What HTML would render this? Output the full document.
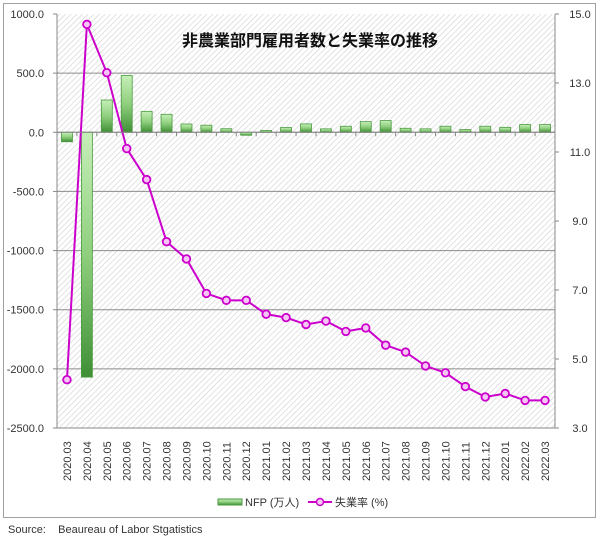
<!DOCTYPE html>
<html><head><meta charset="utf-8">
<style>
body{margin:0;background:#fff;width:600px;height:538px;overflow:hidden;font-family:"Liberation Sans","Noto Sans CJK JP",sans-serif}
svg text{font-family:"Liberation Sans","Noto Sans CJK JP",sans-serif}
</style></head><body>
<svg id="c" width="600" height="538" xmlns="http://www.w3.org/2000/svg">
<defs>
<pattern id="hatch" width="4" height="4" patternUnits="userSpaceOnUse" patternTransform="rotate(45)">
<rect width="4" height="4" fill="#fff"/><line x1="0" y1="0" x2="0" y2="4" stroke="#d0d0d0" stroke-width="1.2"/></pattern>
<linearGradient id="gb" x1="0" y1="0" x2="0" y2="1"><stop offset="0" stop-color="#c6efb8"/><stop offset="0.5" stop-color="#8fcf7e"/><stop offset="1" stop-color="#3f8f35"/></linearGradient>
</defs>
<rect x="3.5" y="3.5" width="592" height="514" fill="#fff" stroke="#a0a0a0"/>
<rect x="57" y="14" width="498" height="414" fill="url(#hatch)"/>
<g id="grid"></g><g id="bars"></g><g id="line"></g><g id="axes"></g>
<text x="310" y="46" text-anchor="middle" font-size="16" font-weight="bold" fill="#111">非農業部門雇用者数と失業率の推移</text>
<g>
<rect x="218" y="499" width="24" height="6" fill="url(#gb)" stroke="#4a9a40"/>
<text x="245" y="506" font-size="11" fill="#333">NFP (万人)</text>
<line x1="308" y1="502" x2="332" y2="502" stroke="#cc00cc" stroke-width="2"/>
<circle cx="320" cy="502" r="3.5" fill="#f6c6f6" stroke="#cc00cc" stroke-width="1.5"/>
<text x="335" y="506" font-size="11" fill="#333">失業率 (%)</text>
</g>
<text x="8" y="533" font-size="11" fill="#333">Source:&#160;&#160;&#160;&#160;Beaureau of Labor Stgatistics</text>
</svg>
<script>
const categories=["2020.03","2020.04","2020.05","2020.06","2020.07","2020.08","2020.09","2020.10","2020.11","2020.12","2021.01","2021.02","2021.03","2021.04","2021.05","2021.06","2021.07","2021.08","2021.09","2021.10","2021.11","2021.12","2022.01","2022.02","2022.03"];
const nfpValues=[-80,-2070,273,480,177,152,70,60,30,-25,15,40,71,29,51,90,99,34,29,51,23,51,42,65,65];
const unempValues=[4.4,14.7,13.3,11.1,10.2,8.4,7.9,6.9,6.7,6.7,6.3,6.2,6.0,6.1,5.8,5.9,5.4,5.2,4.8,4.6,4.2,3.9,4.0,3.8,3.8];
const leftTicks=[1000,500,0,-500,-1000,-1500,-2000,-2500];
const rightTicks=[15,13,11,9,7,5,3];
const NS="http://www.w3.org/2000/svg";
const X0=57,X1=555,Y0=14,Y1=428;
const bw=(X1-X0)/categories.length;
const xC=i=>X0+bw*(i+0.5);
const yL=v=>Y0+(1000-v)/3500*(Y1-Y0);
const yR=v=>Y0+(15-v)/12*(Y1-Y0);
function mk(tag,attrs,parent,txt){const e=document.createElementNS(NS,tag);for(const k in attrs)e.setAttribute(k,attrs[k]);if(txt!==undefined)e.textContent=txt;document.getElementById(parent).appendChild(e);return e;}
leftTicks.forEach(t=>{
 if(t!==1000&&t!==-2500){const g=mk('line',{x1:X0,x2:X1,y1:yL(t),y2:yL(t),stroke:'#8c8c8c','stroke-width':1},'grid');
 
 }
 const l=mk('text',{x:44,y:yL(t)+4,'text-anchor':'end','font-size':11,fill:'#333'},'axes',t.toFixed(1));
 
 
 mk('line',{x1:X0-4,x2:X0,y1:yL(t),y2:yL(t),stroke:'#888'},'axes');
});
rightTicks.forEach(t=>{
 const l=mk('text',{x:580,y:yR(t)+4,'text-anchor':'middle','font-size':11,fill:'#333'},'axes',t.toFixed(1));
 
 
 mk('line',{x1:X1,x2:X1+4,y1:yR(t),y2:yR(t),stroke:'#888'},'axes');
});
mk('line',{x1:X0,x2:X0,y1:Y0,y2:Y1,stroke:'#888'},'axes');
mk('line',{x1:X1,x2:X1,y1:Y0,y2:Y1,stroke:'#888'},'axes');
mk('line',{x1:X0,x2:X1,y1:Y1,y2:Y1,stroke:'#888'},'axes');
mk('line',{x1:X0,x2:X1,y1:yL(0),y2:yL(0),stroke:'#888'},'axes');
nfpValues.forEach((v,i)=>{
 const y=Math.min(yL(v),yL(0)),h=Math.abs(yL(v)-yL(0));
 const b=mk('rect',{x:xC(i)-5.5,y:y,width:11,height:Math.max(h,1),fill:'url(#gb)',stroke:'#4a9a40','stroke-width':0.8},'bars');
 
 
 mk('line',{x1:X0+bw*(i+1),x2:X0+bw*(i+1),y1:yL(0),y2:yL(0)+4,stroke:'#888'},'axes');
});
categories.forEach((c,i)=>{
 const t=mk('text',{x:0,y:0,transform:`translate(${xC(i)+4},481) rotate(-90)`,'font-size':11,fill:'#333'},'axes',c);
 
 
});
const pts=unempValues.map((v,i)=>xC(i)+','+yR(v)).join(' ');
const pl=mk('polyline',{points:pts,fill:'none',stroke:'#cc00cc','stroke-width':2},'line');


unempValues.forEach((v,i)=>{
 const c=mk('circle',{cx:xC(i),cy:yR(v),r:3.8,fill:'#f6c6f6',stroke:'#cc00cc','stroke-width':1.8},'line');
 
 
});
</script>
</body></html>
